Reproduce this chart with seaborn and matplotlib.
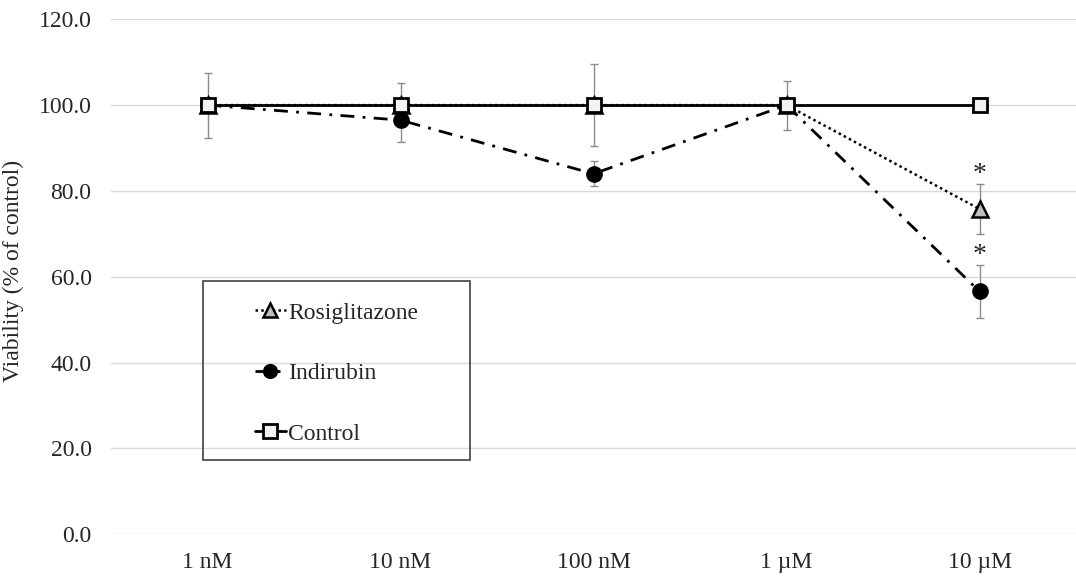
import numpy as np
import pandas as pd
import matplotlib
matplotlib.use('Agg')
import matplotlib.pyplot as plt
from matplotlib.patches import Rectangle
import seaborn as sns

doses = ['1 nM', '10 nM', '100 nM', '1 \u00b5M', '10 \u00b5M']

rosi_mean = [100.0, 100.0, 100.0, 100.0, 75.8]
rosi_err = [0.0, 0.0, 0.0, 0.0, 5.8]

indi_mean = [100.0, 96.5, 84.0, 100.0, 56.6]
indi_err = [0.0, 5.2, 2.9, 0.0, 6.1]

ctrl_mean = [100.0, 100.0, 100.0, 100.0, 100.0]
ctrl_err = [7.6, 5.2, 9.5, 5.7, 0.0]

sig_rosi = [False, False, False, False, True]
sig_indi = [False, False, False, False, True]

sns.set_style('white')
plt.rcParams['font.family'] = ['Liberation Serif', 'DejaVu Serif']
plt.rcParams['font.size'] = 17

fig = plt.figure(figsize=(10.76, 5.76), dpi=100)
ax = fig.add_axes([0.1032, 0.0724, 0.8968, 0.8941])

x = np.arange(len(doses))
df_rosi = pd.DataFrame({'x': x, 'y': rosi_mean})
df_indi = pd.DataFrame({'x': x, 'y': indi_mean})
df_ctrl = pd.DataFrame({'x': x, 'y': ctrl_mean})

err_kw = dict(fmt='none', ecolor='#8c8c8c', elinewidth=1.0, capsize=3, capthick=1.0, zorder=2)
ax.errorbar(x, rosi_mean, yerr=rosi_err, **err_kw)
ax.errorbar(x, indi_mean, yerr=indi_err, **err_kw)
ax.errorbar(x, ctrl_mean, yerr=ctrl_err, **err_kw)

sns.lineplot(data=df_rosi, x='x', y='y', ax=ax, color='black', linewidth=1.8,
             linestyle=(0, (1, 1.3)), marker='^', markersize=11,
             markerfacecolor='#bfbfbf', markeredgecolor='black', markeredgewidth=1.8,
             label='Rosiglitazone', zorder=3)
sns.lineplot(data=df_indi, x='x', y='y', ax=ax, color='black', linewidth=2.0,
             linestyle=(0, (5, 3, 1, 3)), marker='o', markersize=11,
             markerfacecolor='black', markeredgecolor='black', markeredgewidth=1.0,
             label='Indirubin', zorder=4)
sns.lineplot(data=df_ctrl, x='x', y='y', ax=ax, color='black', linewidth=2.0,
             linestyle='-', marker='s', markersize=10.5,
             markerfacecolor='#f2f2f2', markeredgecolor='black', markeredgewidth=2.0,
             label='Control', zorder=5)

# significance marks above the error bars
for means, errs, sig in [(rosi_mean, rosi_err, sig_rosi), (indi_mean, indi_err, sig_indi)]:
    for i in range(len(doses)):
        if sig[i]:
            ax.text(x[i], means[i] + errs[i] - 0.7, '*', ha='center', va='bottom', fontsize=20)

ax.set_xlim(-0.5, len(doses) - 0.5)
ax.set_ylim(0, 120)
ax.set_yticks(np.arange(0, 121, 20))
ax.set_yticklabels([f'{v:.1f}' for v in np.arange(0, 121, 20)])
ax.set_xticks(x)
ax.set_xticklabels(doses)
ax.set_xlabel('')
ax.set_ylabel('Viability (% of control)', fontsize=17)
ax.yaxis.set_label_coords(-0.090, 0.511)
ax.tick_params(axis='both', length=0, labelsize=17)
ax.tick_params(axis='y', pad=14)
ax.tick_params(axis='x', pad=13)
ax.grid(axis='y', color='#d9d9d9', linewidth=1.0)
ax.set_axisbelow(True)
for s in ax.spines.values():
    s.set_visible(False)

# legend frame drawn separately so the entries can sit where they do in the original
ax.add_patch(Rectangle((0.0953, 0.144), 0.277, 0.348, transform=ax.transAxes,
                       facecolor='none', edgecolor='#404040', linewidth=1.2, zorder=6))
leg = ax.legend(loc='upper left', bbox_to_anchor=(0.149, 0.451), frameon=False,
                fontsize=17, handlelength=1.3, handletextpad=0.12,
                labelspacing=1.65, borderpad=0, borderaxespad=0, markerscale=0.9)

fig.savefig('out.png', dpi=100)
